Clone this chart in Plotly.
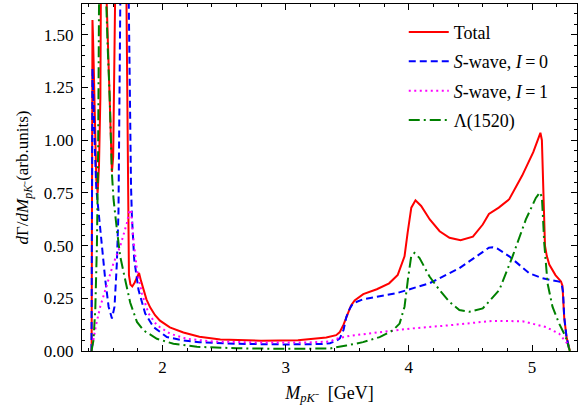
import plotly.graph_objects as go

# ---- data (M_pK- in GeV, dGamma/dM in arb. units) ----
total_x = [1.425, 1.429, 1.432, 1.436, 1.442, 1.453, 1.463, 1.474, 1.485, 1.496, 1.503, 1.513, 1.52, 1.527,
           1.535, 1.545, 1.558, 1.572, 1.582, 1.59, 1.6, 1.612, 1.622, 1.632, 1.645, 1.665, 1.68, 1.695,
           1.707, 1.714, 1.719, 1.723, 1.728, 1.74, 1.755, 1.775, 1.795, 1.81, 1.825, 1.846, 1.87, 1.9,
           1.94, 1.98, 2.06, 2.17, 2.3, 2.47, 2.8, 3.1, 3.33, 3.41, 3.44, 3.47, 3.5, 3.53, 3.56, 3.63,
           3.74, 3.84, 3.91, 3.965, 3.99, 4.02, 4.054, 4.1, 4.17, 4.25, 4.33, 4.42, 4.52, 4.6, 4.65,
           4.73, 4.815, 4.92, 5.01, 5.05, 5.068, 5.08, 5.087, 5.095, 5.105, 5.12, 5.14, 5.19, 5.235,
           5.247, 5.261, 5.28, 5.298, 5.307]
total_y = [0.0, 0.8, 1.57, 1.5, 1.357, 1.04, 0.815, 0.75, 0.88, 1.2, 1.6, 2.4, 4.0, 3.0,
           2.2, 1.7, 1.45, 1.2, 0.95, 0.85, 0.92, 1.2, 1.5, 1.8, 2.6, 4.0, 3.6, 2.5,
           1.7, 1.2, 0.8, 0.5, 0.36, 0.315, 0.306, 0.325, 0.355, 0.37, 0.335, 0.287, 0.245, 0.207,
           0.17, 0.144, 0.112, 0.088, 0.068, 0.055, 0.049, 0.051, 0.064, 0.075, 0.09, 0.125, 0.17, 0.215, 0.24, 0.27,
           0.293, 0.321, 0.361, 0.449, 0.56, 0.68, 0.715, 0.688, 0.624, 0.568, 0.537, 0.525, 0.542, 0.6, 0.65,
           0.68, 0.72, 0.832, 0.943, 1.0, 1.035, 1.0, 0.85, 0.62, 0.5, 0.45, 0.41, 0.36, 0.33,
           0.31, 0.16, 0.066, 0.02, 0.0]

swave0_x = [1.424, 1.428, 1.432, 1.438, 1.445, 1.455, 1.463, 1.482, 1.509, 1.536, 1.563, 1.59, 1.611,
            1.63, 1.643, 1.652, 1.66, 1.672, 1.688, 1.703, 1.715, 1.722, 1.73, 1.737, 1.745, 1.752, 1.771,
            1.806, 1.86, 1.927, 2.036, 2.17, 2.3, 2.6, 3.0, 3.3, 3.36, 3.41, 3.44, 3.47, 3.493, 3.52,
            3.547, 3.628, 3.9, 4.17, 4.41, 4.49, 4.6, 4.65, 4.68, 4.72, 4.815, 4.977, 5.085, 5.22,
            5.24, 5.252, 5.261, 5.28, 5.298, 5.307]
swave0_y = [0.0, 0.7, 1.34, 1.22, 1.05, 0.9, 0.77, 0.656, 0.497, 0.337, 0.21, 0.154, 0.21,
            0.417, 0.656, 1.1, 1.8, 3.0, 3.5, 2.8, 2.2, 1.8, 1.3, 1.0, 0.78, 0.64, 0.433,
            0.289, 0.178, 0.114, 0.066, 0.05, 0.042, 0.034, 0.031, 0.033, 0.037, 0.048, 0.06, 0.1, 0.162, 0.2,
            0.226, 0.245, 0.274, 0.322, 0.393, 0.425, 0.47, 0.49, 0.492, 0.485, 0.449, 0.369, 0.345, 0.329,
            0.318, 0.28, 0.162, 0.066, 0.02, 0.0]

swave1_x = [1.424, 1.43, 1.441, 1.46, 1.495, 1.55, 1.603, 1.657, 1.712, 1.73, 1.745, 1.76, 1.793,
            1.833, 1.887, 1.955, 2.062, 2.198, 2.41, 2.8, 3.17, 3.36, 3.41, 3.52, 3.763, 4.006, 4.33,
            4.68, 4.923, 5.112, 5.22, 5.288, 5.307]
swave1_y = [0.0, 0.02, 0.066, 0.12, 0.21, 0.32, 0.417, 0.497, 0.608, 0.66, 0.67, 0.55, 0.385,
            0.274, 0.178, 0.122, 0.082, 0.058, 0.045, 0.04, 0.04, 0.045, 0.058, 0.072, 0.09, 0.106, 0.122,
            0.143, 0.141, 0.114, 0.082, 0.034, 0.0]

lam_x = [1.424, 1.44, 1.455, 1.468, 1.478, 1.49, 1.5, 1.51, 1.52, 1.53, 1.538, 1.544, 1.555, 1.572,
         1.59, 1.603, 1.63, 1.657, 1.698, 1.738, 1.793, 1.846, 1.955, 2.089, 2.28, 2.6, 3.0, 3.36,
         3.493, 3.628, 3.763, 3.871, 3.925, 3.965, 3.992, 4.019, 4.046, 4.087, 4.168, 4.249, 4.33,
         4.41, 4.49, 4.6, 4.734, 4.842, 4.95, 5.031, 5.064, 5.08, 5.09, 5.099, 5.126, 5.166, 5.22,
         5.274, 5.307]
lam_y = [0.0, 0.05, 0.2, 0.5, 0.95, 1.65, 2.5, 3.8, 5.0, 3.5, 2.2, 1.65, 1.45, 1.2,
         0.84, 0.72, 0.577, 0.449, 0.337, 0.23, 0.138, 0.098, 0.058, 0.034, 0.02, 0.013, 0.01, 0.012,
         0.026, 0.042, 0.066, 0.098, 0.13, 0.21, 0.337, 0.449, 0.465, 0.441, 0.353, 0.289, 0.233,
         0.194, 0.186, 0.202, 0.289, 0.449, 0.624, 0.726, 0.752, 0.73, 0.62, 0.513, 0.321, 0.21, 0.13,
         0.066, 0.0]

names = ["Total",
         "<i>S</i>-wave, <i>I</i>\u2009=\u20090",
         "<i>S</i>-wave, <i>I</i>\u2009=\u20091",
         "\u039b(1520)"]

x_range = [1.347, 5.365]
y_range = [0.0, 1.646]
x_ticks = [2, 3, 4, 5]
y_ticks = [0.0, 0.25, 0.5, 0.75, 1.0, 1.25, 1.5]

FONT = "Liberation Serif, Times New Roman, serif"

fig = go.Figure()
series = [
    (total_x, total_y, "#ff0000", "solid"),
    (swave0_x, swave0_y, "#0000ff", "7px,4px"),
    (swave1_x, swave1_y, "#ff00ff", "2px,3.5px"),
    (lam_x, lam_y, "#008000", "11px,4px,2px,4px"),
]
for i, (xs, ys, col, dash) in enumerate(series):
    fig.add_trace(go.Scatter(x=xs, y=ys, mode="lines", name=names[i], legendgroup=f"g{i}",
                             line=dict(color=col, width=2, dash=dash)))

axis_common = dict(
    showline=True, linecolor="black", linewidth=1.3, mirror="allticks",
    ticks="inside", ticklen=6, tickwidth=1, tickcolor="black",
    showgrid=False, zeroline=False, automargin=False,
    tickfont=dict(family=FONT, size=17, color="black"),
)
fig.update_xaxes(range=x_range, tickvals=x_ticks, ticktext=[str(v) for v in x_ticks],
                 minor=dict(dtick=0.2, tick0=0, ticks="inside", ticklen=3, tickcolor="black", showgrid=False),
                 title=dict(text="<i>M</i><sub><i>pK</i>\u207b</sub>\u2002[GeV]",
                            font=dict(family=FONT, size=18, color="black"), standoff=10),
                 **axis_common)
fig.update_yaxes(range=y_range, tickvals=y_ticks, ticktext=[f"{v:.2f}" for v in y_ticks],
                 ticklabelstandoff=4,
                 minor=dict(dtick=0.05, tick0=0, ticks="inside", ticklen=3, tickcolor="black", showgrid=False),
                 title=dict(text="<i>d</i>\u0393/<i>dM</i><sub><i>pK</i>\u207b</sub>(arb.units)",
                            font=dict(family=FONT, size=17, color="black"), standoff=10),
                 **axis_common)

fig.update_layout(
    width=579, height=411,
    margin=dict(l=82, r=2, t=4, b=60, autoexpand=False),
    paper_bgcolor="white", plot_bgcolor="white",
    font=dict(family=FONT, color="black"),
    showlegend=True,
    legend=dict(x=0.65, y=0.972, xanchor="left", yanchor="top",
                font=dict(family=FONT, size=18, color="black"),
                bgcolor="rgba(0,0,0,0)", tracegroupgap=3, itemwidth=40),
)

fig.write_html("out.html", config={"displayModeBar": False},
               post_script="document.body.style.margin='0';document.body.style.padding='0';")
